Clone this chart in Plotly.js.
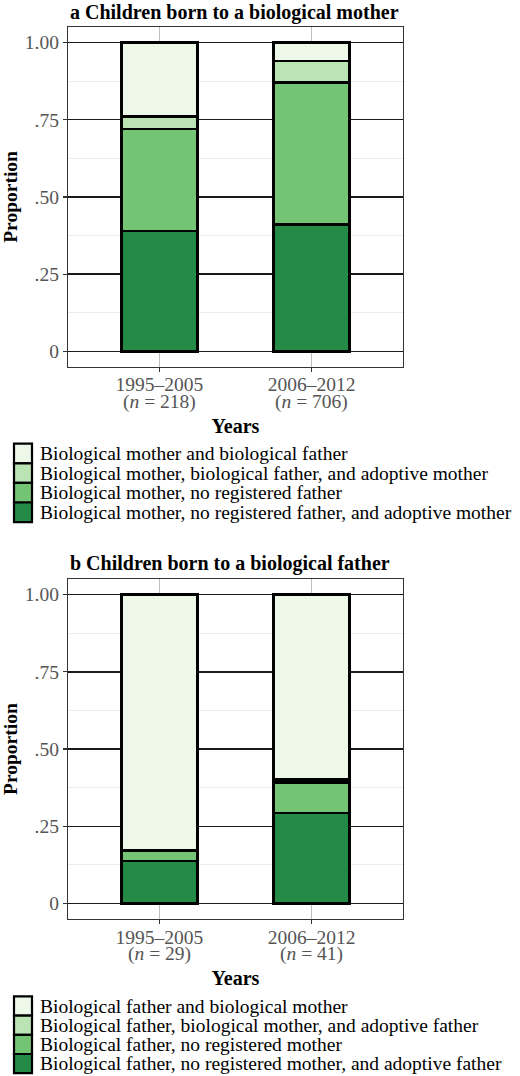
<!DOCTYPE html>
<html>
<head>
<meta charset="utf-8">
<script src="https://cdn.plot.ly/plotly-3.0.1.min.js"></script>
<style>
  html, body { margin: 0; padding: 0; background: #fff; }
  #chart { width: 520px; height: 1076px; }
</style>
</head>
<body>
<div id="chart"></div>
<script>
const periods = ['1995–2005', '2006–2012'];
const countsA = [218, 706];
const countsB = [29, 41];

// panel a: children born to a biological mother (bottom to top)
const namesA = [
  'Biological mother, no registered father, and adoptive mother',
  'Biological mother, no registered father',
  'Biological mother, biological father, and adoptive mother',
  'Biological mother and biological father'
];
const valuesA = [
  [0.39, 0.41],
  [0.33, 0.46],
  [0.04, 0.07],
  [0.24, 0.06]
];

// panel b: children born to a biological father (bottom to top)
const namesB = [
  'Biological father, no registered mother, and adoptive father',
  'Biological father, no registered mother',
  'Biological father, biological mother, and adoptive father',
  'Biological father and biological mother'
];
const valuesB = [
  [0.138, 0.293],
  [0.034, 0.098],
  [0.0, 0.01],
  [0.828, 0.599]
];

const greens = ['#238b45', '#74c476', '#bae4b3', '#edf8e9'];
const yTicks = [0, 0.25, 0.5, 0.75, 1];
const yTickText = ['0', '.25', '.50', '.75', '1.00'];

const FONT = 'Liberation Serif, Times New Roman, serif';

// plot box in pixels, used to place the hand-drawn legends
const M = { l: 68, r: 117, t: 27, b: 157 };
const W = 520, H = 1076;
const px2x = px => (px - M.l) / (W - M.l - M.r);
const py2y = py => (H - M.b - py) / (H - M.t - M.b);

const traces = [];
namesA.forEach((name, i) => {
  traces.push({
    type: 'bar', x: periods, y: valuesA[i], name: name,
    xaxis: 'x', yaxis: 'y',
    marker: { color: greens[i], line: { color: '#000', width: 2.5 } },
    hoverinfo: 'skip'
  });
});
namesB.forEach((name, i) => {
  traces.push({
    type: 'bar', x: periods, y: valuesB[i], name: name,
    xaxis: 'x2', yaxis: 'y2',
    marker: { color: greens[i], line: { color: '#000', width: 2.5 } },
    hoverinfo: 'skip'
  });
});

function xAxis(anchor) {
  return {
    anchor: anchor,
    type: 'category',
    range: [-0.6, 1.6],
    tickmode: 'array', tickvals: periods, ticktext: periods,
    showgrid: true, gridcolor: '#bdbdbd', gridwidth: 1,
    showline: true, mirror: true, linecolor: '#333', linewidth: 1.2,
    ticks: 'outside', ticklen: 4, tickcolor: '#333', tickwidth: 1.2,
    ticklabelstandoff: -4,
    tickfont: { family: FONT, size: 19.5, color: '#555' },
    title: { text: '<b>Years</b>', font: { family: FONT, size: 20, color: '#000' }, standoff: 24 },
    zeroline: false, fixedrange: true, automargin: false
  };
}

function yAxis(domain, anchor) {
  return {
    anchor: anchor,
    domain: domain,
    range: [-0.05, 1.05],
    tickmode: 'array', tickvals: yTicks, ticktext: yTickText,
    showgrid: true, gridcolor: '#1a1a1a', gridwidth: 1.5,
    minor: { tickmode: 'linear', tick0: 0, dtick: 0.125, showgrid: true, gridcolor: '#ebebeb', gridwidth: 1, ticks: '' },
    showline: true, mirror: true, linecolor: '#333', linewidth: 1.2,
    ticks: 'outside', ticklen: 4, tickcolor: '#333', tickwidth: 1.2,
    tickfont: { family: FONT, size: 19.5, color: '#555' },
    title: { text: '<b>Proportion</b>', font: { family: FONT, size: 19.5, color: '#000' }, standoff: 6 },
    zeroline: false, fixedrange: true, automargin: false
  };
}

const shapes = [];
const annotations = [];

// second line of each x tick label: the group size
function addCounts(counts, xref, frameBottom) {
  counts.forEach((n, j) => {
    annotations.push({
      text: '(<i>n</i> = ' + n + ')', xref: xref, yref: 'paper',
      x: periods[j], y: py2y(frameBottom + 35), xanchor: 'center', yanchor: 'middle',
      showarrow: false, font: { family: FONT, size: 19.5, color: '#555' }
    });
  });
}
addCounts(countsA, 'x', 367);
addCounts(countsB, 'x2', 919);

// legends drawn as boxes + text so their size matches the reference
function addLegend(names, top, step) {
  for (let k = 0; k < names.length; k++) {
    const i = names.length - 1 - k;
    const cy = top + k * step;
    shapes.push({
      type: 'rect', xref: 'paper', yref: 'paper',
      x0: px2x(14), x1: px2x(32), y0: py2y(cy + step / 2), y1: py2y(cy - step / 2),
      fillcolor: greens[i], line: { color: '#000', width: 2.2 }
    });
    annotations.push({
      text: names[i], xref: 'paper', yref: 'paper',
      x: px2x(38), y: py2y(cy), xanchor: 'left', yanchor: 'middle',
      showarrow: false, font: { family: FONT, size: 19.5, color: '#000' }
    });
  }
}
addLegend(namesA, 453.5, 19.6);
addLegend(namesB, 1006, 19.2);

annotations.push(
  {
    text: '<b>a Children born to a biological mother</b>',
    xref: 'paper', yref: 'paper', x: 0, y: 1, xanchor: 'left', yanchor: 'bottom',
    yshift: 1, showarrow: false, font: { family: FONT, size: 20, color: '#000' }
  },
  {
    text: '<b>b Children born to a biological father</b>',
    xref: 'paper', yref: 'paper', x: 0, y: 0.381, xanchor: 'left', yanchor: 'bottom',
    yshift: 2, showarrow: false, font: { family: FONT, size: 20, color: '#000' }
  }
);

const layout = {
  width: W,
  height: H,
  margin: M,
  paper_bgcolor: '#fff',
  plot_bgcolor: '#fff',
  barmode: 'stack',
  bargap: 0.5,
  font: { family: FONT, color: '#000' },
  showlegend: false,
  xaxis: xAxis('y'),
  yaxis: yAxis([0.619, 1], 'x'),
  xaxis2: xAxis('y2'),
  yaxis2: yAxis([0, 0.381], 'x2'),
  shapes: shapes,
  annotations: annotations
};

Plotly.newPlot('chart', traces, layout, { displayModeBar: false, staticPlot: true });
</script>
</body>
</html>
